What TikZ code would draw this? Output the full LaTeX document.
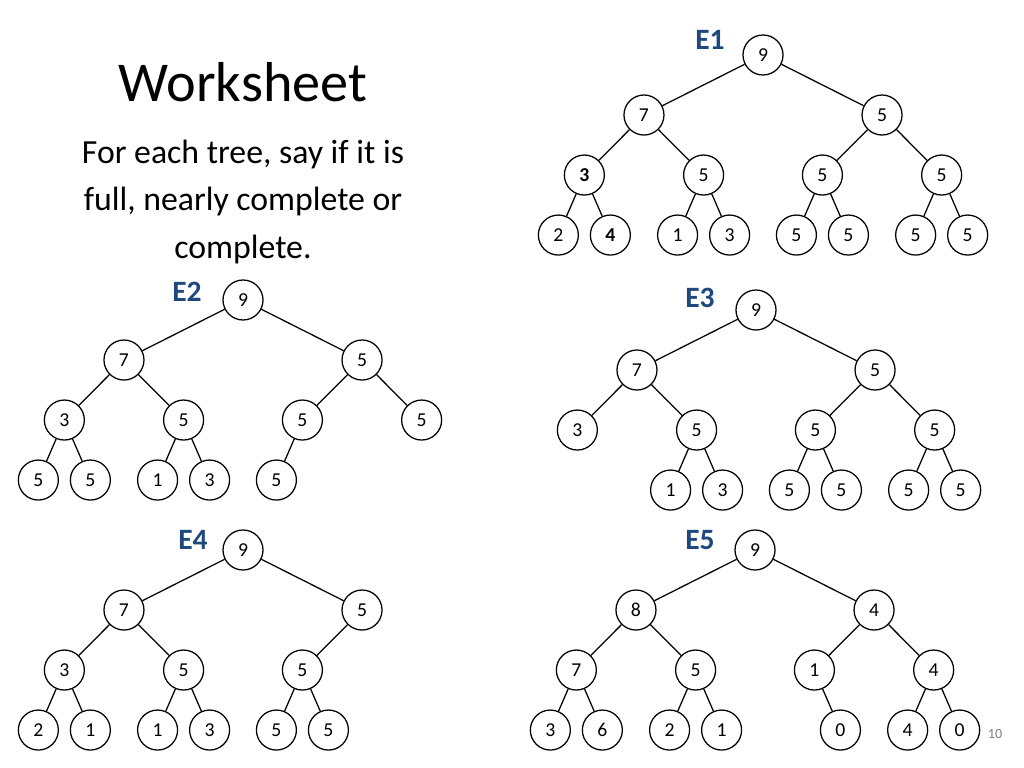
\documentclass[tikz,border=0pt]{standalone}
\usepackage{fontspec}
\setmainfont{Carlito}
\definecolor{treeblue}{RGB}{31,73,125}
\begin{document}
\begin{tikzpicture}[x=0.025cm,y=-0.025cm,
   level distance=1.5cm,
   level 1/.style={sibling distance=5.95cm},
   level 2/.style={sibling distance=2.98cm},
   level 3/.style={sibling distance=1.3cm},
   every node/.style={circle,draw,line width=0.9pt,minimum size=1cm,inner sep=0pt,font=\fontsize{14}{14}\selectfont},
   edge from parent/.style={draw,line width=0.9pt},
   tag/.style={draw=none,circle=false,rectangle,font=\fontsize{21}{21}\selectfont\bfseries,text=treeblue},
   plain/.style={draw=none,rectangle,minimum size=0pt,align=center}]
\useasboundingbox (0,0) rectangle (1024,768);

% title and task
\node[plain,font=\fontsize{40}{40}\selectfont] (title) at (243,82) {Worksheet};
\node[plain,font=\fontsize{24}{34}\selectfont] (task) at (243,202) {For each tree, say if it is\\full, nearly complete or\\complete.};
\node[plain,font=\fontsize{10}{10}\selectfont,text=gray] (page) at (995,734) {10};

% E1
\node[tag] (t1) at (710,40) {E1};
\node (e1) at (763,55) {9}
    child {node {7}
        child {node {\textbf{3}} child {node {2}} child {node {\textbf{4}}}}
        child {node {5} child {node {1}} child {node {3}}}
    }
    child {node {5}
        child {node {5} child {node {5}} child {node {5}}}
        child {node {5} child {node {5}} child {node {5}}}
    };

% E2
\node[tag] (t2) at (187,292) {E2};
\node (e2) at (243,300) {9}
    child {node {7}
        child {node {3} child {node {5}} child {node {5}}}
        child {node {5} child {node {1}} child {node {3}}}
    }
    child {node {5}
        child {node {5} child {node {5}} child[missing]}
        child {node {5}}
    };

% E3
\node[tag] (t3) at (700,298) {E3};
\node (e3) at (756,310) {9}
    child {node {7}
        child {node {3}}
        child {node {5} child {node {1}} child {node {3}}}
    }
    child {node {5}
        child {node {5} child {node {5}} child {node {5}}}
        child {node {5} child {node {5}} child {node {5}}}
    };

% E4
\node[tag] (t4) at (193,540) {E4};
\node (e4) at (243,550) {9}
    child {node {7}
        child {node {3} child {node {2}} child {node {1}}}
        child {node {5} child {node {1}} child {node {3}}}
    }
    child {node {5}
        child {node {5} child {node {5}} child {node {5}}}
        child[missing]
    };

% E5
\node[tag] (t5) at (700,540) {E5};
\node (e5) at (755,550) {9}
    child {node {8}
        child {node {7} child {node {3}} child {node {6}}}
        child {node {5} child {node {2}} child {node {1}}}
    }
    child {node {4}
        child {node {1} child[missing] child {node {0}}}
        child {node {4} child {node {4}} child {node {0}}}
    };

\end{tikzpicture}
\end{document}
